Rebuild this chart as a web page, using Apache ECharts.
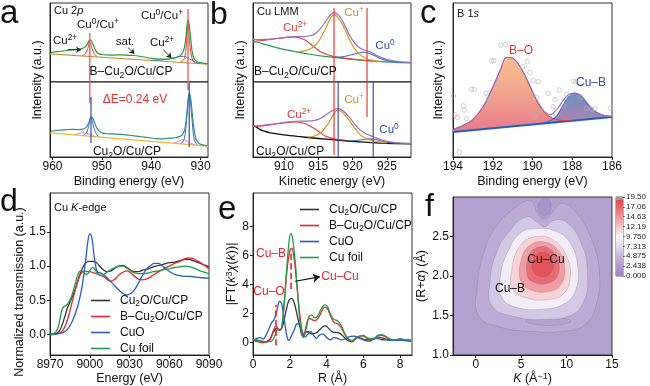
<!DOCTYPE html>
<html><head><meta charset="utf-8">
<script src="https://cdn.jsdelivr.net/npm/echarts@6/dist/echarts.min.js"></script>
<style>html,body{margin:0;padding:0;background:#fff}#c{width:650px;height:386px}</style>
</head><body><div id="c"></div><script>
const FONT = "'Liberation Sans', Arial, sans-serif";

// ---------------- panel a : Cu 2p XPS ----------------
const aTicks = [930, 940, 950, 960];
const aTopSpec = [[960.3,68.6],[959,69],[958,69.4],[957,69.8],[956,70.2],[955,70.4],[954.2,70.8],[953.6,71.5],[953.1,73],[952.75,75],[952.45,76.5],[952.1,75.8],[951.7,73],[951.3,70],[950.8,68],[950,67.2],[949,66.9],[948,66.8],[947,66.9],[946,66.9],[945,66.8],[944,66.6],[943,66.4],[942,65.9],[941,65.3],[940,64.8],[939,64.4],[938,64.2],[937,64.2],[936,64.5],[935.2,65],[934.5,65.8],[934,66.8],[933.6,68.5],[933.25,72],[932.95,79],[932.7,87],[932.55,89.5],[932.3,86],[932,77],[931.7,69],[931.3,64.5],[930.8,62.8],[930,62],[929.2,61.6],[928.6,61.4]];
const aTopBase = [[960.5,67.6],[928.5,61]];
const aTopFit1 = [[954,66.4],[953.4,67.5],[952.9,70.5],[952.45,75.5],[952.0,71],[951.5,67.5],[951,66]];
const aTopFit2 = [[934,62.3],[933.3,64.5],[932.9,73],[932.55,88.5],[932.2,74],[931.7,64.5],[931.1,61.8]];
const aTopCu2 = [[940,63.4],[938,63.7],[936.5,64.3],[935.3,65.2],[934.3,65.9],[933.5,66],[932.7,65.3],[931.8,63.6],[931,62.2],[930,61.4]];
const aBotSpec = [[960.3,18.3],[959,18.8],[958,19.2],[957,19.4],[956,19.5],[955,19.4],[954.2,19.5],[953.5,20],[953,21.5],[952.6,24],[952.2,27.5],[951.85,26.8],[951.5,24],[951.1,21],[950.6,18.5],[950,17.3],[949,16.7],[948,16.6],[947,16.5],[946,16.3],[945,16],[944,15.6],[943,15.2],[942,14.8],[941,14.4],[940,14],[939,13.6],[938,13.5],[937,13.6],[936,13.9],[935,14.3],[934.3,14.9],[933.7,16],[933.2,19.5],[932.9,26],[932.6,36],[932.3,42.7],[932.0,39],[931.7,30],[931.4,21],[931.0,14],[930.5,11],[930,10],[929.2,9.4],[928.6,9.1]];
const aBotBase = [[960.5,17.3],[928.5,8.8]];
const aBotFit1 = [[953.8,15.6],[953.1,17.5],[952.6,22.5],[952.2,27],[951.8,23],[951.3,17.5],[950.7,15]];
const aBotFit2 = [[934,10.3],[933.3,13.5],[932.8,27],[932.3,42],[931.8,28],[931.3,13],[930.7,9.6]];
const aBotPink1 = [[955.5,16],[954.3,17.2],[953.5,17.3],[952.6,16.4],[951.5,15.2]];
const aBotPink2 = [[935.5,10.7],[934.5,11.8],[933.6,13],[933,12.6],[932.2,11],[931.2,9.6]];
const aRedLines = [[952.45,80.9,36.3],[932.55,96.2,44.6]];
const aBlueLines = [[952.2,40.1,10.8],[932.3,49,8.3]];
const aSeparator = 49.7;
const aArrows = [[[956.9,70.3],[954.2,70.2]],[[944.7,71.6],[943.4,67.6]],[[937.6,70.3],[935.9,65]]];

// ---------------- panel b : Cu LMM ----------------
const bTicks = [910, 915, 920, 925];
const bTopBase = [[905.5,75.3],[906,75],[908,72.5],[910,70.3],[912,68.5],[914,67],[916,65.8],[918,64.8],[920,63.8],[922,63],[924,62.4],[926,62],[928.5,61.6]];
const bTopCu2 = [[905.5,75.3],[906.5,75.8],[908,76.6],[910,77.8],[911.5,78.2],[913,76.5],[914.5,71.5],[915.5,68.4],[917,66],[919,64.5],[921,63.6],[923,62.9]];
const bTopCu1 = [[912,68.6],[913,69.3],[914,71],[915,75],[916,83],[916.7,89.5],[917.3,92.5],[918,90],[918.8,84],[919.6,76],[920.5,69.5],[921.5,65.5],[922.5,63.6],[924,62.6]];
const bTopCu0 = [[917,65.2],[918.5,65.6],[919.8,66.8],[920.8,68],[921.6,68.4],[922.4,67.8],[923.3,66],[924.3,64],[925.5,62.6],[927,62]];
const bTopEnv = [[905.5,76.7],[906.5,76.5],[908,76.8],[910,77.8],[911.5,78.5],[912.8,78.5],[913.8,79],[914.6,80.5],[915.4,84],[916.2,89],[916.8,92.5],[917.3,93.8],[917.9,92.5],[918.6,88],[919.3,81.5],[920,76],[920.8,72],[921.6,70],[922.5,68.8],[923.5,66.5],[924.5,64.5],[925.5,63.2],[927,62.3],[928.5,62]];
const bBotBase = [[905.5,21.5],[906,20.5],[906.5,19],[907,18],[908,16.8],[910,15.5],[912,14.5],[915,13.2],[918,12],[921,11],[924,10.3],[928.5,9.8]];
const bBotCu2 = [[905.5,20.7],[906.5,21],[908,21.8],[910,23.2],[911.8,23.7],[913.3,22.3],[914.8,18.5],[916,14.8],[917.5,12.8],[919,12]];
const bBotCu1 = [[913.5,14],[914.5,14.8],[915.5,17.5],[916.5,23],[917.2,28.5],[917.8,31.4],[918.5,30],[919.3,26],[920.2,20.5],[921,16],[922,13],[923.5,11.2],[925,10.4]];
const bBotCu0 = [[919.5,11.6],[920.5,11.9],[921.5,12.5],[922.4,12.9],[923.3,12.5],[924.3,11.5],[925.3,10.6],[926.5,10.1]];
const bBotEnv = [[905.5,21.3],[906.5,21.5],[908,22.2],[910,23.4],[911.8,24.2],[913.3,24.3],[914.5,24.8],[915.5,26.5],[916.5,29.5],[917.3,31.6],[917.9,32.3],[918.6,31],[919.3,28],[920.1,23.5],[921,19],[922,16],[923,14.3],[924,12.6],[925,11.3],[926.5,10.4],[928.5,10]];
const bRedLines = [[917.3,96.8,2.6],[922.1,96.8,26.9]];
const bBlueLines = [[917.9,49.4,1.3],[923.0,49.4,1.3]];
const bSeparator = 49.4;

// ---------------- panel c : B 1s ----------------
const cTicks = [186, 188, 190, 192, 194];
const cBaseline = [[194,15.7],[186,25.5]];
const cEnvelope = [[194,17.5],[193.5,20],[193,24],[192.5,32],[192,45],[191.6,57],[191.3,64.5],[191,64],[190.6,58],[190.2,48],[189.8,37],[189.4,29],[189.1,27],[188.8,30],[188.5,35.5],[188.2,40],[187.9,41.2],[187.6,40],[187.3,35.5],[187,31],[186.7,28],[186.3,26.2],[186,25.8]];
const cBO = [[194,17.2],[193.5,19.8],[193,23.8],[192.5,31.8],[192,44.8],[191.6,56.8],[191.3,64.3],[191,63.8],[190.6,57.8],[190.2,47.5],[189.8,36.2],[189.4,28.5],[189,24.8],[188.6,23.4],[188,23.05]];
const cCuB = [[189.6,21.3],[189.2,22.6],[188.8,26],[188.5,32.5],[188.2,38.5],[187.9,41],[187.6,39.5],[187.3,35],[187,30.5],[186.7,28],[186.4,26.6],[186,26]];
const cPoints = [[191.6,72.5],[191.34,73],[192.05,62.3],[191.94,62.3],[190.27,61.6],[190.5,58.4],[190.13,54.5],[189.96,49.2],[189.71,48.6],[193.08,43.6],[192.94,43.6],[193.98,39.2],[192.34,41],[192.22,37.3],[192.14,36.6],[191.72,47.5],[190.77,36.6],[190.33,37.3],[189.79,38.1],[193.48,32.7],[193.43,30],[193.9,26.8],[193.78,25.3],[193.31,24.4],[189.88,25.7],[189.63,29.4],[188.96,32.2],[188.87,37],[188.66,43.1],[188.29,40.3],[187.95,49],[187.82,48.6],[187.03,30.5],[186.86,31.1],[186.07,31.1],[193.68,2.6],[189.21,41],[188.42,32.7],[187.58,38.4],[187.28,31.1]];

// ---------------- panel d : Cu K-edge XANES ----------------
const dTicksX = [8970, 9000, 9030, 9060, 9090];
const dTicksY = [0, 0.5, 1.0, 1.5];
const dCu2O = [[8970,0.0],[8974,0.01],[8977,0.05],[8979,0.13],[8981,0.25],[8983,0.38],[8985,0.47],[8987,0.56],[8989,0.66],[8991,0.78],[8993,0.9],[8995,0.99],[8997,1.05],[8999.5,1.07],[9002,1.07],[9004.5,1.06],[9007,1.01],[9010,0.95],[9013,0.92],[9016,0.93],[9019,0.97],[9022,1.0],[9025,1.01],[9028,0.98],[9031,0.94],[9034,0.92],[9037,0.92],[9040,0.94],[9044,0.96],[9048,0.99],[9052,1.01],[9056,1.03],[9060,1.05],[9064,1.06],[9068,1.08],[9072,1.1],[9075,1.1],[9078,1.08],[9082,1.05],[9086,1.02],[9090,0.99]];
const dBCu2O = [[8970,0.0],[8975,0.01],[8978,0.03],[8980,0.07],[8982,0.15],[8984,0.27],[8986,0.42],[8988,0.57],[8990,0.72],[8992,0.84],[8994,0.91],[8996,0.93],[8998,0.92],[9000,0.92],[9002,0.91],[9005,0.89],[9008,0.87],[9011,0.84],[9014,0.79],[9016,0.78],[9019,0.81],[9022,0.87],[9025,0.91],[9028,0.93],[9031,0.9],[9034,0.85],[9037,0.81],[9040,0.8],[9044,0.82],[9048,0.87],[9052,0.92],[9056,0.96],[9060,1.0],[9064,1.04],[9068,1.07],[9072,1.11],[9075,1.12],[9078,1.11],[9082,1.07],[9086,1.02],[9090,0.96]];
const dCuO = [[8970,0.0],[8976,0.01],[8980,0.03],[8983,0.07],[8986,0.16],[8989,0.3],[8991,0.42],[8993,0.58],[8995,0.8],[8997,1.1],[8998.5,1.35],[9000,1.47],[9001.5,1.42],[9003,1.2],[9004.5,1.0],[9006,0.91],[9008,0.9],[9010,0.88],[9013,0.83],[9016,0.77],[9019,0.71],[9022,0.65],[9025,0.6],[9028,0.58],[9031,0.6],[9034,0.66],[9037,0.76],[9040,0.87],[9043,0.96],[9046,1.01],[9049,1.04],[9052,1.04],[9055,1.0],[9058,0.95],[9061,0.91],[9064,0.88],[9068,0.86],[9072,0.85],[9076,0.85],[9080,0.84],[9085,0.83],[9090,0.82]];
const dFoil = [[8970,0.0],[8972,0.01],[8974,0.03],[8976,0.1],[8977.5,0.22],[8979,0.36],[8980.5,0.41],[8982,0.42],[8983.5,0.45],[8985,0.5],[8987,0.6],[8989,0.74],[8991,0.87],[8993,0.93],[8995,0.92],[8997,0.88],[8999,0.9],[9001,0.96],[9002.5,0.98],[9004,0.95],[9006,0.89],[9008,0.86],[9010,0.87],[9013,0.91],[9016,0.95],[9019,0.98],[9022,1.0],[9025,1.0],[9028,0.97],[9031,0.93],[9034,0.9],[9037,0.89],[9040,0.89],[9044,0.9],[9048,0.92],[9052,0.93],[9056,0.95],[9060,0.96],[9064,0.98],[9068,0.99],[9072,1.0],[9076,0.99],[9080,0.96],[9085,0.92],[9090,0.89]];

// ---------------- panel e : FT-EXAFS ----------------
const eTicksX = [0, 2, 4, 6, 8];
const eTicksY = [0, 2, 4, 6, 8];
const eCu2O = [[0,0.2],[0.3,0.15],[0.6,0.05],[0.9,0.2],[1.1,0.7],[1.3,1.0],[1.45,0.85],[1.6,1.1],[1.8,2.2],[1.95,2.9],[2.1,3.05],[2.25,2.7],[2.4,1.9],[2.55,1.1],[2.7,0.45],[2.85,0.7],[3.0,0.75],[3.2,0.6],[3.4,0.65],[3.6,0.85],[3.8,1.1],[3.95,1.15],[4.1,1.0],[4.3,0.75],[4.5,0.7],[4.7,0.65],[4.9,0.45],[5.1,0.2],[5.3,0.1],[5.5,0.2],[5.7,0.35],[5.9,0.3],[6.1,0.15],[6.3,0.1],[6.5,0.2],[6.7,0.3],[6.9,0.35],[7.1,0.3],[7.3,0.2],[7.5,0.15],[7.8,0.15],[8.1,0.2],[8.6,0.15]];
const eBCu2O = [[0,0.15],[0.3,0.05],[0.6,0.0],[0.9,0.15],[1.1,0.8],[1.25,1.15],[1.4,0.9],[1.55,1.0],[1.7,2.8],[1.85,5.0],[2.0,6.3],[2.1,6.5],[2.2,6.1],[2.35,4.5],[2.5,2.5],[2.65,0.9],[2.75,0.4],[2.9,1.2],[3.05,1.65],[3.2,1.6],[3.35,1.5],[3.55,1.7],[3.75,2.2],[3.9,2.45],[4.05,2.35],[4.2,1.9],[4.4,1.4],[4.6,1.3],[4.8,1.05],[5.0,0.55],[5.2,0.2],[5.4,0.05],[5.6,0.3],[5.8,0.45],[6.0,0.45],[6.2,0.3],[6.4,0.2],[6.6,0.3],[6.8,0.45],[7.0,0.5],[7.2,0.4],[7.4,0.25],[7.6,0.15],[7.8,0.2],[8.0,0.25],[8.3,0.15],[8.6,0.1]];
const eCuO = [[0,0.15],[0.2,0.3],[0.4,0.35],[0.55,0.25],[0.7,0.5],[0.85,0.9],[1.0,1.35],[1.15,1.6],[1.3,2.2],[1.45,2.85],[1.55,2.7],[1.7,1.6],[1.85,0.4],[1.95,0.15],[2.1,0.5],[2.25,0.9],[2.4,1.3],[2.55,1.2],[2.7,0.7],[2.85,0.4],[3.0,0.6],[3.15,0.75],[3.3,0.5],[3.45,0.3],[3.6,0.5],[3.8,0.6],[4.0,0.35],[4.2,0.2],[4.4,0.35],[4.6,0.3],[4.8,0.2],[5.0,0.25],[5.2,0.4],[5.5,0.45],[5.8,0.3],[6.1,0.2],[6.4,0.25],[6.7,0.3],[7.0,0.2],[7.3,0.2],[7.6,0.15],[8.0,0.15],[8.6,0.1]];
const eFoil = [[0,0.2],[0.25,0.15],[0.5,0.1],[0.75,0.05],[1.0,0.1],[1.2,0.5],[1.35,0.9],[1.5,0.9],[1.65,2.0],[1.8,4.5],[1.95,6.8],[2.05,7.5],[2.15,7.2],[2.3,5.5],[2.45,3.0],[2.6,1.0],[2.75,0.35],[2.9,1.0],[3.05,1.8],[3.2,1.9],[3.35,1.7],[3.5,1.8],[3.7,2.3],[3.9,2.6],[4.05,2.5],[4.2,2.0],[4.4,1.6],[4.6,1.5],[4.8,1.2],[5.0,0.6],[5.2,0.25],[5.4,0.15],[5.6,0.35],[5.8,0.45],[6.0,0.5],[6.2,0.35],[6.4,0.25],[6.6,0.3],[6.8,0.5],[7.0,0.55],[7.2,0.45],[7.4,0.3],[7.6,0.2],[7.8,0.2],[8.0,0.25],[8.3,0.2],[8.6,0.15]];
const eDashLines = [[1.25,-0.2,2.6],[2.07,3.7,6.3]];
const eArrow = [[2.28,4.23],[3.64,4.53]];

// ---------------- panel f : wavelet transform ----------------
const fTicksX = [0, 5, 10, 15];
const fTicksY = [1.0, 1.5, 2.0, 2.5];
const fBarValues = [0, 2.438, 4.875, 7.313, 9.75, 12.19, 14.63, 17.06, 19.5];
const fBarLabels = ['0.000','2.438','4.875','7.313','9.750','12.19','14.63','17.06','19.50'];
const fBackground = 2.8;
const fContourValues = [3.8, 3.0, 6.0, 8.8, 11.5, 14.2, 16.8, 18.6, 1.6];
const fContour1 = [[0.3,1.5],[0.2,1.9],[0.9,2.3],[2.2,2.62],[4.2,2.85],[6.0,2.95],[6.9,2.78],[7.6,2.72],[8.4,2.8],[9.5,2.92],[11.2,2.78],[12.8,2.45],[13.6,2.05],[13.3,1.65],[12,1.38],[9.5,1.3],[6,1.3],[2.8,1.35]];
const fContour2 = [[5.5,1.43],[7,1.48],[9,1.48],[10.5,1.43],[9,1.38],[7,1.38]];
const fContour3 = [[1.8,1.62],[1.6,1.95],[2.3,2.3],[3.8,2.58],[5.6,2.75],[6.8,2.68],[7.6,2.62],[8.5,2.7],[10,2.68],[11.6,2.42],[12.3,2.05],[11.9,1.68],[10.4,1.5],[7.5,1.45],[4.5,1.48]];
const fContour4 = [[2.9,1.72],[2.7,1.98],[3.5,2.3],[5,2.55],[6.8,2.6],[8.5,2.58],[10.2,2.45],[11.2,2.15],[11,1.82],[9.6,1.64],[7.2,1.58],[4.6,1.6]];
const fContour5 = [[4.1,1.83],[4.0,2.1],[5.0,2.4],[6.8,2.5],[8.6,2.45],[10,2.25],[10.4,1.98],[9.6,1.77],[7.8,1.7],[5.7,1.72]];
const fContour6 = [[5.0,1.92],[5.0,2.2],[6.0,2.39],[7.6,2.43],[9.1,2.32],[9.8,2.1],[9.3,1.88],[7.8,1.8],[6.2,1.82]];
const fContour7 = [[5.7,2.0],[5.8,2.24],[6.8,2.36],[8.2,2.34],[9.1,2.18],[8.9,1.98],[7.6,1.9],[6.4,1.92]];
const fContour8 = [[6.3,2.06],[6.5,2.24],[7.5,2.3],[8.4,2.22],[8.4,2.06],[7.4,1.99]];
const fContour9 = [[6.9,2.86],[7.2,2.96],[8.0,2.97],[8.3,2.86],[7.9,2.78],[7.2,2.78]];
const fContours = [fContour1,fContour2,fContour3,fContour4,fContour5,fContour6,fContour7,fContour8,fContour9];

// ---------------- styling helpers ----------------
const scaleStops = [[0,'#9a85c1'],[2.438,'#ae9ccc'],[4.875,'#c7b9dc'],[7.313,'#e4dcee'],[9.75,'#fcf8fb'],[12.19,'#f6c5c8'],[14.63,'#ef959b'],[17.06,'#e8676f'],[19.5,'#e2464f']];
function hex2rgb(h){return [parseInt(h.slice(1,3),16),parseInt(h.slice(3,5),16),parseInt(h.slice(5,7),16)];}
function colorFor(v){
  for (let i=1;i<scaleStops.length;i++){
    if (v<=scaleStops[i][0]){
      const a=scaleStops[i-1], b=scaleStops[i], t=(v-a[0])/(b[0]-a[0]);
      const ca=hex2rgb(a[1]), cb=hex2rgb(b[1]);
      return 'rgb('+ca.map((c,k)=>Math.round(c+(cb[k]-c)*t)).join(',')+')';
    }
  }
  return scaleStops[scaleStops.length-1][1];
}
function rich(color, size){
  const s = size*0.72;
  return {
    sup:{fontSize:s, lineHeight:s+1, verticalAlign:'top', fill:color, color:color, fontFamily:FONT},
    sub:{fontSize:s, lineHeight:s+1, verticalAlign:'bottom', fill:color, color:color, fontFamily:FONT},
    i:{fontStyle:'italic', fontSize:size, fill:color, color:color, fontFamily:FONT}
  };
}
function txt(text, x, y, color, size, align, rot){
  return {type:'text', x:x, y:y, rotation: rot||0, z:100, silent:true,
    style:{text:text, fill:color, fontSize:size, fontFamily:FONT, align:align||'center', verticalAlign:'middle', lineHeight:size+4, rich:rich(color,size)}};
}
function ln(gi, data, color, width, extra){
  return Object.assign({type:'line', xAxisIndex:gi, yAxisIndex:gi, data:data, symbol:'none', smooth:0.35,
    lineStyle:{color:color, width:width||1.1}, itemStyle:{color:color}, silent:true, z:3}, extra||{});
}
function seg(gi, s, color, width, dash){
  return {type:'line', xAxisIndex:gi, yAxisIndex:gi, data:[[s[0],s[1]],[s[0],s[2]]], symbol:'none',
    lineStyle:{color:color, width:width, type:dash||'solid'}, silent:true, z:5};
}
function arrows(gi, list, color, width, size){
  return {type:'line', xAxisIndex:gi, yAxisIndex:gi, data:[], silent:true,
    markLine:{silent:true, symbol:['none','arrow'], symbolSize:size, label:{show:false}, animation:false,
      lineStyle:{color:color, width:width, type:'solid'},
      data:list.map(p=>[{coord:p[0]},{coord:p[1]}])}};
}
const AX = '#222';
function xAxisDef(gi, min, max, ticks, name, gap, inverse){
  return {gridIndex:gi, type:'value', min:min, max:max, inverse:!!inverse,
    axisLine:{show:true, onZero:false, lineStyle:{color:AX, width:1}},
    axisTick:{show:true, length:3, customValues:ticks, lineStyle:{color:AX}},
    axisLabel:{customValues:ticks, color:'#111', fontSize:12, fontFamily:FONT, margin:4, formatter:v=>String(v)},
    splitLine:{show:false},
    name:name, nameLocation:'middle', nameGap:gap,
    nameTextStyle:{color:'#111', fontSize:12.5, fontFamily:FONT, rich:rich('#111',12.5)}};
}
function yAxisDef(gi, min, max, ticks, name, gap, fmt){
  const d = {gridIndex:gi, type:'value', min:min, max:max,
    axisLine:{show:true, onZero:false, lineStyle:{color:AX, width:1}},
    splitLine:{show:false},
    name:name, nameLocation:'middle', nameGap:gap,
    nameTextStyle:{color:'#111', fontSize:12.5, fontFamily:FONT, rich:rich('#111',12.5)}};
  if (ticks){
    d.axisTick = {show:true, length:3, customValues:ticks, lineStyle:{color:AX}};
    d.axisLabel = {customValues:ticks, color:'#111', fontSize:12, fontFamily:FONT, margin:4, formatter:fmt};
  } else {
    d.axisTick = {show:false}; d.axisLabel = {show:false};
  }
  return d;
}
const gridBase = {show:true, borderColor:'#333', borderWidth:1, backgroundColor:'transparent', containLabel:false, outerBoundsMode:'none'};

const cRed = '#e23b32', cBlue = '#2f4fae', cOrange = '#c8921a';
const dNames = ['Cu2O/Cu/CP','B–Cu2O/Cu/CP','CuO','Cu foil'];
const dColors = ['#333333','#e8262b','#2a5cc8','#1e9e4a'];

const series = [];
// panel a
series.push(ln(0, aTopBase, '#c89632', 1.1));
series.push(ln(0, aTopCu2, '#3f6fd0', 1.0));
series.push(ln(0, aTopFit1, '#e8383d', 1.0));
series.push(ln(0, aTopFit2, '#e8383d', 1.0));
series.push(ln(0, aTopSpec, '#2a9a3e', 1.2));
series.push(ln(0, aBotBase, '#f0b830', 1.2));
series.push(ln(0, aBotPink1, '#e070c0', 0.9));
series.push(ln(0, aBotPink2, '#e070c0', 0.9));
series.push(ln(0, aBotFit1, '#4a6ad0', 1.0));
series.push(ln(0, aBotFit2, '#4a6ad0', 1.0));
series.push(ln(0, aBotSpec, '#2f8f7f', 1.2));
aRedLines.forEach(s=>series.push(seg(0, s, 'rgba(236,90,90,0.85)', 1.6)));
aBlueLines.forEach(s=>series.push(seg(0, s, 'rgba(70,80,190,0.9)', 1.4)));
series.push({type:'line', xAxisIndex:0, yAxisIndex:0, data:[[928.5,aSeparator],[960.5,aSeparator]], symbol:'none', lineStyle:{color:'#111', width:1.2}, silent:true, z:4});
series.push(arrows(0, aArrows, '#222', 0.9, 5));
// panel b
series.push(ln(1, bTopBase, '#2a9a50', 1.2));
series.push(ln(1, bTopCu2, '#e83a3a', 1.1));
series.push(ln(1, bTopCu0, '#3a70c8', 1.1));
series.push(ln(1, bTopCu1, '#d49a1a', 1.2));
series.push(ln(1, bTopEnv, '#9a6cc8', 1.2));
series.push(ln(1, bBotBase, '#111111', 1.4));
series.push(ln(1, bBotCu2, '#e83a3a', 1.1));
series.push(ln(1, bBotCu0, '#3a70c8', 1.1));
series.push(ln(1, bBotCu1, '#d49a1a', 1.2));
series.push(ln(1, bBotEnv, '#9a6cc8', 1.2));
bRedLines.forEach(s=>series.push(seg(1, s, '#e83a3a', 1.2)));
bBlueLines.forEach(s=>series.push(seg(1, s, '#4050b0', 1.2)));
series.push({type:'line', xAxisIndex:1, yAxisIndex:1, data:[[905.5,bSeparator],[928.5,bSeparator]], symbol:'none', lineStyle:{color:'#111', width:1.2}, silent:true, z:4});
// panel c
function fillPoly(gi, pts, grad){
  return {type:'custom', xAxisIndex:gi, yAxisIndex:gi, data:[pts[0]], silent:true, z:1, clip:true,
    renderItem:function(p, api){ return {type:'polygon', shape:{points:pts.map(d=>api.coord(d))}, style:{fill:grad}}; }};
}
const G = echarts.graphic.LinearGradient;
series.push(fillPoly(2, cBO.concat([cBaseline[0]]), new G(0,0,0,1,[{offset:0,color:'#f7c08f'},{offset:0.55,color:'#f1a08c'},{offset:1,color:'#e8798c'}])));
series.push(fillPoly(2, cCuB.concat([cBaseline[1]]), new G(0,0,0,1,[{offset:0,color:'#6d8fbf'},{offset:1,color:'#b283ae'}])));
series.push(ln(2, cBaseline, '#1f5fc8', 1.8, {smooth:false}));
series.push(ln(2, cBO, '#e8383d', 1.0));
series.push(ln(2, cCuB, '#2f5fc0', 1.0));
series.push(ln(2, cEnvelope, '#9a6cc8', 1.1));
series.push({type:'scatter', xAxisIndex:2, yAxisIndex:2, data:cPoints, symbol:'circle', symbolSize:4.5,
  itemStyle:{color:'rgba(255,255,255,0)', borderColor:'#b5b5b5', borderWidth:0.8}, silent:true, z:6});
// panel d
[dCu2O, dBCu2O, dCuO, dFoil].forEach((d,i)=>series.push(ln(3, d, dColors[i], 1.3, {name:dNames[i], smooth:0.4})));
// panel e
[eCu2O, eBCu2O, eCuO, eFoil].forEach((d,i)=>series.push(ln(4, d, dColors[i], 1.3, {name:dNames[i], smooth:0.4})));
eDashLines.forEach(s=>series.push(seg(4, s, '#e8262b', 1.6, 'dashed')));
series.push(arrows(4, [eArrow], '#111', 1.1, 7));
// panel f
series.push({type:'custom', xAxisIndex:5, yAxisIndex:5, data:fContours.map(c=>c[0]), silent:true, clip:true, z:1,
  renderItem:function(p, api){
    const pts = fContours[p.dataIndex].map(d=>api.coord(d));
    return {type:'polygon', shape:{points:pts, smooth:0.45}, style:{fill:colorFor(fContourValues[p.dataIndex]), stroke:'rgba(120,105,140,0.45)', lineWidth:0.6}};
  }});
// colour bar
const barStops = [{offset:0,color:'#9c9c9c'},{offset:0.035,color:'#9c9c9c'},{offset:0.04,color:scaleStops[8][1]}];
for (let i=scaleStops.length-2;i>=0;i--) barStops.push({offset:1-scaleStops[i][0]/19.5, color:scaleStops[i][1]});
series.push({type:'bar', xAxisIndex:6, yAxisIndex:6, data:[19.5], barWidth:'100%', silent:true,
  itemStyle:{color:new G(0,0,0,1,barStops)}});

const option = {
  animation:false,
  backgroundColor:'#fff',
  textStyle:{fontFamily:FONT},
  grid:[
    Object.assign({left:50, top:3, width:158, height:154}, gridBase),
    Object.assign({left:253, top:3, width:158, height:154}, gridBase),
    Object.assign({left:453, top:3, width:159, height:154}, gridBase),
    Object.assign({left:50, top:193, width:159, height:162}, gridBase),
    Object.assign({left:253, top:193, width:159, height:162}, gridBase),
    Object.assign({}, gridBase, {left:453, top:197, width:159, height:158, backgroundColor:colorFor(fBackground)}),
    Object.assign({}, gridBase, {left:616, top:197, width:7, height:79, borderColor:'#444', borderWidth:0.8})
  ],
  xAxis:[
    xAxisDef(0, 928.5, 960.5, aTicks, 'Binding energy (eV)', 18, true),
    xAxisDef(1, 905.5, 928.5, bTicks, 'Kinetic energy (eV)', 18, false),
    xAxisDef(2, 186, 194, cTicks, 'Binding energy (eV)', 18, true),
    xAxisDef(3, 8970, 9090, dTicksX, 'Energy (eV)', 14, false),
    xAxisDef(4, 0, 8.65, eTicksX, 'R (Å)', 14, false),
    xAxisDef(5, -2.5, 15, fTicksX, '{i|K} (Å{sup|−1})', 14, false),
    {gridIndex:6, type:'category', data:['bar'], show:false}
  ],
  yAxis:[
    yAxisDef(0, 1.9, 100, null, 'Intensity (a.u.)', 6),
    yAxisDef(1, 1.3, 100, null, 'Intensity (a.u.)', 6),
    yAxisDef(2, -0.65, 100, null, 'Intensity (a.u.)', 8),
    yAxisDef(3, -0.3, 2.07, dTicksY, '', 30, v=>v.toFixed(1)),
    yAxisDef(4, -0.85, 10.3, eTicksY, '|FT({i|k}{sup|3}{i|χ}({i|k}))|', 12, v=>String(v)),
    yAxisDef(5, 1, 3, fTicksY, '(R+{i|α}) (Å)', 24, v=>v.toFixed(1)),
    {gridIndex:6, type:'value', min:0, max:19.5, position:'right',
      axisLine:{show:false}, splitLine:{show:false},
      axisTick:{show:true, length:2, customValues:fBarValues, lineStyle:{color:'#444', width:0.7}},
      axisLabel:{customValues:fBarValues, fontSize:8, color:'#222', fontFamily:FONT, margin:3,
        formatter:v=>{const i=fBarValues.indexOf(v); return i>=0?fBarLabels[i]:'';}}}
  ],
  legend:[
    {left:86, top:288, orient:'vertical', itemGap:1, itemWidth:19, itemHeight:1.6, icon:'rect', data:dNames,
      selectedMode:false, textStyle:{fontSize:12, fontFamily:FONT, color:'#111', lineHeight:15, padding:[0,0,0,5], rich:rich('#111',12)},
      formatter:n=>n.replace('Cu2O','Cu{sub|2}O')},
    {left:295, top:197, orient:'vertical', itemGap:1, itemWidth:19, itemHeight:1.6, icon:'rect', data:dNames,
      selectedMode:false, textStyle:{fontSize:12, fontFamily:FONT, color:'#111', lineHeight:15, padding:[0,0,0,5], rich:rich('#111',12)},
      formatter:n=>n.replace('Cu2O','Cu{sub|2}O')}
  ],
  series:series,
  graphic:[
    // panel letters
    {type:'text', x:0, y:-3, z:100, style:{text:'a', fontSize:33, fontFamily:FONT, fill:'#111'}},
    {type:'text', x:210, y:-1, z:100, style:{text:'b', fontSize:32, fontFamily:FONT, fill:'#111'}},
    {type:'text', x:420, y:-3, z:100, style:{text:'c', fontSize:33, fontFamily:FONT, fill:'#111'}},
    {type:'text', x:0, y:186, z:100, style:{text:'d', fontSize:32, fontFamily:FONT, fill:'#111'}},
    {type:'text', x:218, y:193, z:100, style:{text:'e', fontSize:33, fontFamily:FONT, fill:'#111'}},
    {type:'text', x:425, y:191, z:100, style:{text:'f', fontSize:32, fontFamily:FONT, fill:'#111'}},
    // panel a
    txt('Cu 2{i|p}', 54, 11, '#111', 11, 'left'),
    txt('Cu{sup|0}/Cu{sup|+}', 98, 25, '#111', 11.5),
    txt('Cu{sup|2+}', 65, 41, '#111', 11.5),
    txt('sat.', 125, 42, '#111', 11.5),
    txt('Cu{sup|2+}', 162, 43, '#111', 11.5),
    txt('Cu{sup|0}/Cu{sup|+}', 162, 16, '#111', 11.5),
    txt('B–Cu{sub|2}O/Cu/CP', 131, 72, '#111', 12),
    txt('ΔE=0.24 eV', 135, 100, '#e23030', 12),
    txt('Cu{sub|2}O/Cu/CP', 127, 152, '#111', 12),
    // panel b
    txt('Cu LMM', 257, 12, '#111', 11, 'left'),
    txt('Cu{sup|2+}', 295, 28, cRed, 11.5),
    txt('Cu{sup|+}', 354, 13, cOrange, 11.5),
    txt('Cu{sup|0}', 385, 46, cBlue, 11.5),
    txt('B–Cu{sub|2}O/Cu/CP', 254, 72, '#111', 12, 'left'),
    txt('Cu{sup|+}', 354, 100, cOrange, 11.5),
    txt('Cu{sup|2+}', 299, 115, cRed, 11.5),
    txt('Cu{sup|0}', 389, 130, cBlue, 11.5),
    txt('Cu{sub|2}O/Cu/CP', 256, 152, '#111', 12, 'left'),
    // panel c
    txt('B 1{i|s}', 457, 14, '#111', 11, 'left'),
    txt('B–O', 521, 51, cRed, 12),
    txt('Cu–B', 591, 83, cBlue, 12),
    // panel d
    txt('Cu {i|K}-edge', 54, 208, '#111', 11, 'left'),
    txt('Normalized transmission (a.u.)', 20, 292, '#111', 12.5, 'center', Math.PI/2),
    // panel e
    txt('Cu–B', 271, 254, '#e8262b', 12),
    txt('Cu–O', 269, 292, '#e8262b', 12),
    txt('Cu–Cu', 340, 277, '#e8262b', 12),
    // panel f
    txt('Cu–Cu', 546, 260, '#111', 12),
    txt('Cu–B', 510, 289, '#111', 12)
  ]
};
const chart = echarts.init(document.getElementById('c'), null, {renderer:'canvas', width:650, height:386});
chart.setOption(option);
</script></body></html>
